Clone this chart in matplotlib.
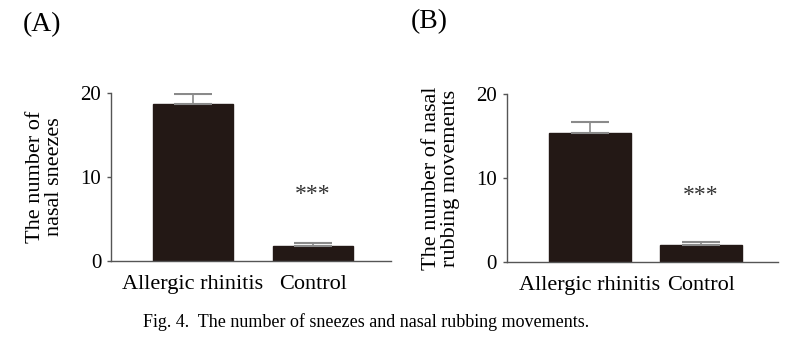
import matplotlib.pyplot as plt

plt.rcParams['font.family'] = ['Liberation Serif', 'DejaVu Serif']

groups = ["Allergic rhinitis", "Control"]
sneezes = [18.7, 1.8]
sneezes_err = [1.2, 0.4]
rubbing = [15.4, 2.0]
rubbing_err = [1.2, 0.4]
y_ticks = [0, 10, 20]

bar_color = "#231815"
line_color = "#555555"

fig = plt.figure(figsize=(7.98, 3.39), dpi=100)

axA = fig.add_axes([0.139, 0.230, 0.351, 0.496])
axB = fig.add_axes([0.635, 0.227, 0.340, 0.496])


def panel(ax, values, errs, width, xlim, ylabel):
    x = list(range(len(groups)))
    ax.bar(x, values, width=width, color=bar_color, edgecolor=bar_color)
    ax.errorbar(x, values, yerr=[[0] * len(errs), errs], fmt="none",
                ecolor="#8a8a8a", elinewidth=1.2, capsize=14, capthick=1.5)
    ax.set_xlim(*xlim)
    ax.set_ylim(0, 20)
    ax.set_yticks(y_ticks)
    ax.set_xticks(x)
    ax.set_xticklabels(groups, fontsize=16)
    ax.tick_params(axis="x", length=0, pad=10)
    ax.tick_params(axis="y", labelsize=15, length=3, width=1, color=line_color, pad=4)
    for side in ("top", "right"):
        ax.spines[side].set_visible(False)
    for side in ("left", "bottom"):
        ax.spines[side].set_color(line_color)
        ax.spines[side].set_linewidth(1)
    ax.set_ylabel(ylabel, fontsize=16, linespacing=1.0, labelpad=12)
    ax.text(1, 7.9, "***", ha="center", va="center", fontsize=17, color="#333333")


panel(axA, sneezes, sneezes_err, 0.667, (-0.683, 1.65),
      "The number of\nnasal sneezes")
panel(axB, rubbing, rubbing_err, 0.74, (-0.748, 1.694),
      "The number of nasal\nrubbing movements")

fig.text(0.028, 0.926, "(A)", fontsize=20, ha="left", va="center")
fig.text(0.515, 0.935, "(B)", fontsize=20, ha="left", va="center")
fig.text(0.179, 0.05, "Fig. 4.  The number of sneezes and nasal rubbing movements.",
         fontsize=13, ha="left", va="center")

plt.savefig("out.png", dpi=100)
